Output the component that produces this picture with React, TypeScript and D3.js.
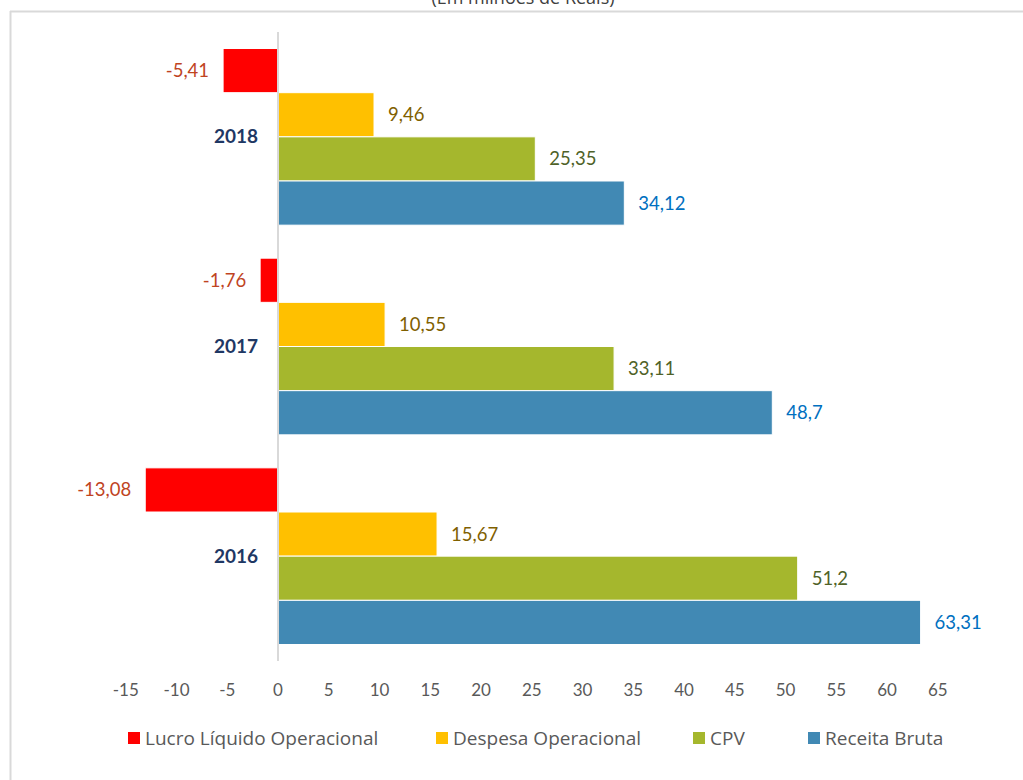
import React from "react";
import * as d3 from "d3";

const years = ["2018", "2017", "2016"];
const seriesNames = ["Lucro Líquido Operacional", "Despesa Operacional", "CPV", "Receita Bruta"];
const lucro = [-5.41, -1.76, -13.08];
const despesa = [9.46, 10.55, 15.67];
const cpv = [25.35, 33.11, 51.2];
const receita = [34.12, 48.7, 63.31];
const ticks = [-15, -10, -5, 0, 5, 10, 15, 20, 25, 30, 35, 40, 45, 50, 55, 60, 65];

const barColors = ["#FF0000", "#FFC000", "#A5B72D", "#4189B4"];
const labelColors = ["#C0441F", "#7F6000", "#4F6228", "#0070C0"];

const W = 1023;
const H = 780;
const FONT = "Lato, 'Open Sans', sans-serif";

export default function App() {
  const x = d3.scaleLinear().domain([-15, 65]).range([125.75, 937.75]);
  const y = d3
    .scaleBand<string>()
    .domain(years)
    .range([32, 661])
    .paddingInner(0.1575)
    .paddingOuter(0.07875);
  const inner = d3
    .scaleBand<number>()
    .domain([0, 1, 2, 3])
    .range([0, y.bandwidth()]);
  const values = [lucro, despesa, cpv, receita];
  const fmt = (v: number) => String(v).replace(".", ",");

  return (
    <svg
      width={W}
      height={H}
      style={{ position: "absolute", left: 0, top: 0, background: "#fff" }}
      fontFamily={FONT}
    >
      <rect x={0} y={0} width={W} height={H} fill="#fff" />
      {/* frame */}
      <line x1={10.5} x2={10.5} y1={11} y2={H} stroke="#d9d9d9" strokeWidth={2} />
      <line x1={10} x2={W} y1={11.5} y2={11.5} stroke="#d9d9d9" strokeWidth={2} />
      {/* clipped title (cut off at the top, as in the reference) */}
      <text x={523} y={4} textAnchor="middle" fontSize={18} fill="#404040" fontFamily="'Open Sans', sans-serif">
        (Em milhões de Reais)
      </text>

      {/* bars */}
      {years.map((yr, i) => (
        <g key={yr}>
          {values.map((arr, s) => {
            const v = arr[i];
            const y0 = (y(yr) as number) + (inner(s) as number);
            const h = inner.bandwidth();
            const x0 = Math.min(x(0), x(v));
            const w = Math.abs(x(v) - x(0));
            const neg = v < 0;
            return (
              <g key={s}>
                <rect
                  x={x0}
                  y={y0}
                  width={w}
                  height={h}
                  fill={barColors[s]}
                  stroke="#fff"
                  strokeWidth={1}
                />
                <text
                  x={neg ? x(v) - 14 : x(v) + 14}
                  y={y0 + h / 2}
                  dy="0.35em"
                  textAnchor={neg ? "end" : "start"}
                  fontSize={18.5}
                  fill={labelColors[s]}
                >
                  {fmt(v)}
                </text>
              </g>
            );
          })}
          <text
            x={258}
            y={(y(yr) as number) + y.bandwidth() / 2}
            dy="0.35em"
            textAnchor="end"
            fontSize={19}
            fontWeight="bold"
            fill="#1F3864"
          >
            {yr}
          </text>
        </g>
      ))}

      {/* zero axis */}
      <line x1={x(0)} x2={x(0)} y1={32} y2={661} stroke="#d9d9d9" strokeWidth={2} />

      {/* ticks */}
      {ticks.map((t) => (
        <text
          key={t}
          x={x(t)}
          y={690}
          dy="0.35em"
          textAnchor="middle"
          fontSize={17}
          fill="#595959"
        >
          {t}
        </text>
      ))}

      {/* legend */}
      {seriesNames.map((n, s) => {
        const lx = [128, 436, 693, 808][s];
        return (
          <g key={n}>
            <rect x={lx} y={732} width={12} height={12} fill={barColors[s]} />
            <text
              x={lx + 17}
              y={738}
              dy="0.35em"
              fontSize={19}
              fill="#595959"
              fontFamily="'Open Sans', sans-serif"
            >
              {n}
            </text>
          </g>
        );
      })}
    </svg>
  );
}
